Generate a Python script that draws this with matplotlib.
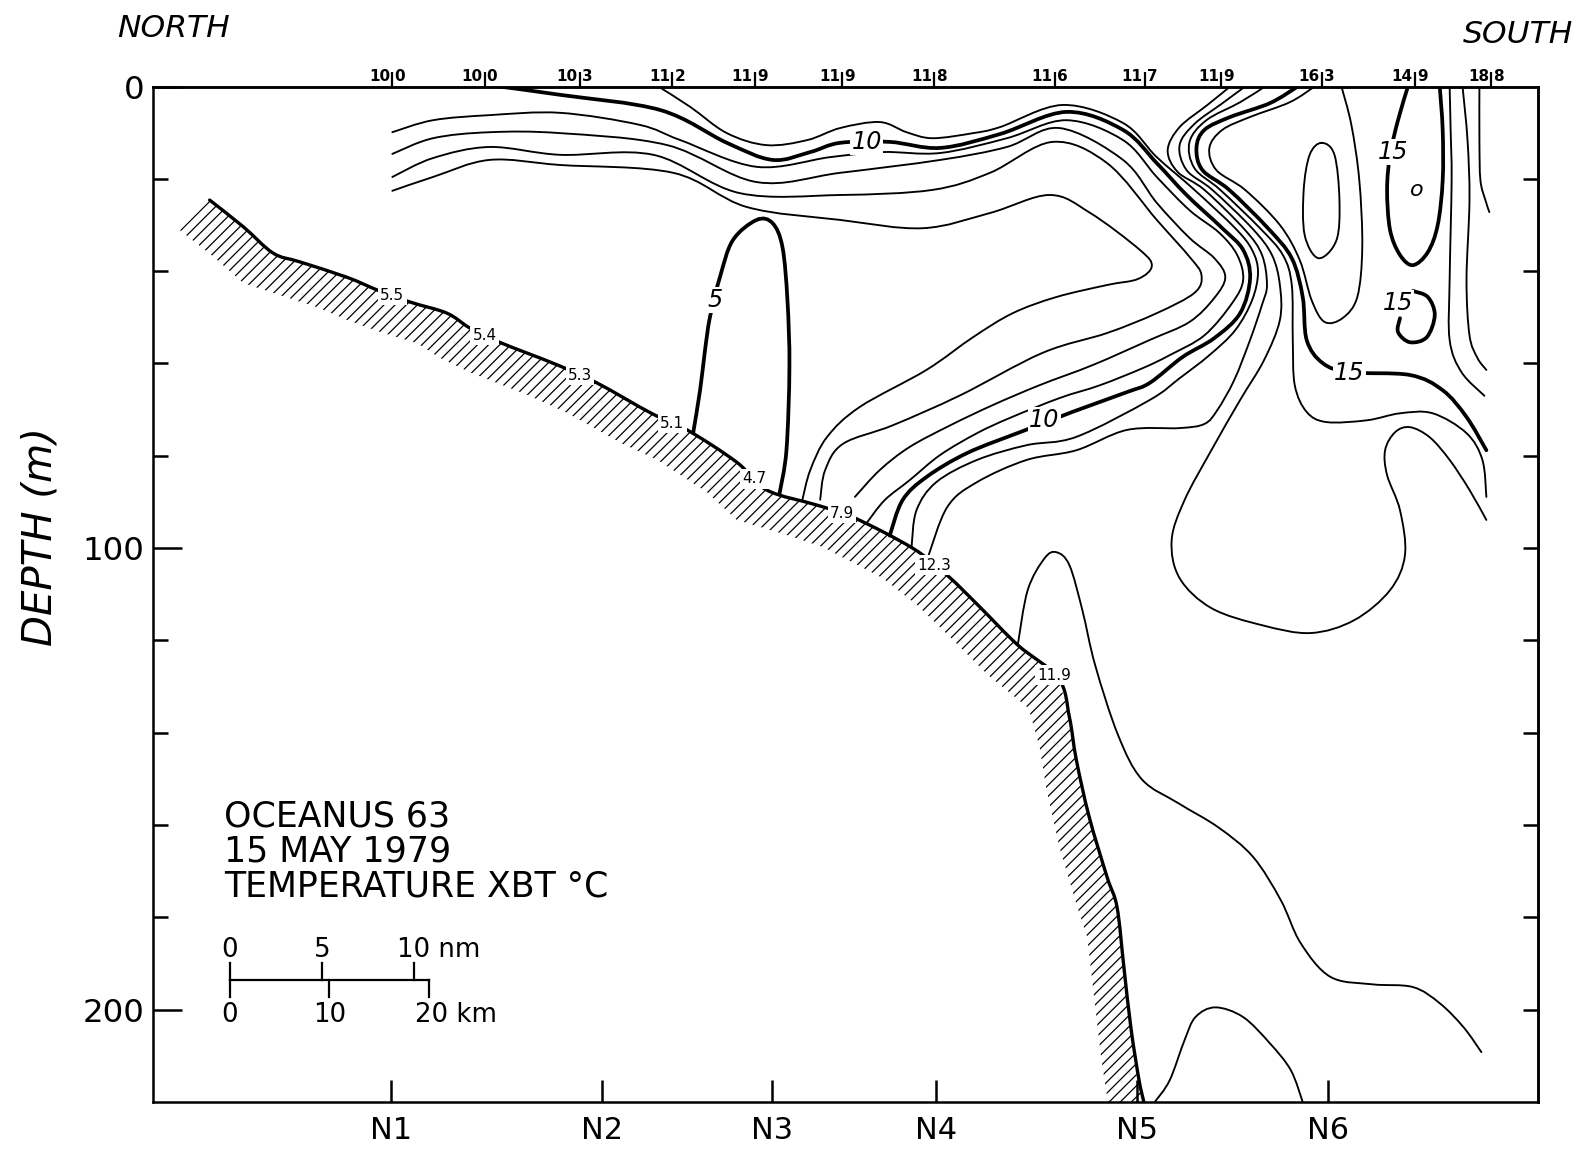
import numpy as np
import matplotlib
matplotlib.use("Agg")
import matplotlib.pyplot as plt
import matplotlib.transforms as mtransforms
from matplotlib.path import Path
from matplotlib.patches import PathPatch, Polygon
from matplotlib import font_manager as fm

# ---- section geometry -------------------------------------------------------
station_km = [24.0, 45.2, 62.3, 78.9, 99.1, 118.3]
station_names = ["N1", "N2", "N3", "N4", "N5", "N6"]

# XBT drops: distance along section (km) and surface temperature (deg C)
xbt_km = [24.1, 33.4, 43.0, 52.3, 60.6, 69.4, 78.7, 90.8, 99.9, 107.6, 117.7, 127.1, 134.8]
xbt_sst = [10.0, 10.0, 10.3, 11.2, 11.9, 11.9, 11.8, 11.6, 11.7, 11.9, 16.3, 14.9, 18.8]
# bottom temperature at the first eight drops
xbt_bottom_t = [5.5, 5.4, 5.3, 5.1, 4.7, 7.9, 12.3, 11.9]

# sea floor
bottom_km = [5.7, 9.1, 12.1, 14.8, 19.5, 22.6, 25.9, 29.6, 31.9, 34.9, 40.7, 44.7, 50.2, 53.8,
             58.8, 61.8, 66.9, 70.5, 76.5, 80.0, 83.3, 87.1, 91.2, 92.3, 93.0, 94.3, 96.1,
             97.1, 97.8, 98.5, 99.3, 99.8]
bottom_m = [24.6, 30.4, 36.1, 38.0, 41.3, 44.1, 46.7, 49.1, 52.3, 55.4, 60.3, 64.2, 70.8, 74.4,
            81.4, 87.4, 90.7, 93.3, 100.0, 105.9, 112.8, 121.0, 128.2, 136.6, 145.9, 158.3,
            171.3, 177.8, 191.0, 204.0, 215.1, 220.0]

# ---- isotherms (km, m) ------------------------------------------------------
iso5_km = [54.4, 55.1, 55.6, 56.1, 57.1, 58.4, 60.8, 62.4, 63.4, 63.9, 64.1, 63.8, 63.1]
iso5_m = [75.1, 65.8, 57.1, 49.9, 41.3, 33.3, 28.9, 29.6, 34.8, 46.3, 60.8, 78.8, 88.2]

iso6_km = [24.1, 28.2, 33.9, 41.0, 52.4, 59.8, 69.2, 77.5, 84.3, 90.3, 94.4, 99.4, 100.6, 99.2,
           96.1, 91.0, 86.6, 82.6, 77.9, 71.2, 67.9, 66.2, 65.4]
iso6_m = [22.6, 19.6, 15.9, 17.0, 18.7, 26.1, 28.9, 30.7, 27.4, 23.5, 27.4, 35.4, 38.9, 41.7,
          43.0, 45.6, 49.1, 54.3, 61.4, 69.4, 75.9, 83.1, 89.6]

iso7_km = [24.1, 28.2, 33.9, 41.0, 50.4, 59.1, 69.2, 78.5, 84.3, 90.6, 96.1, 101.1, 104.4, 105.6,
           104.9, 101.1, 96.1, 89.6, 81.3, 74.5, 69.5, 67.7, 67.2]
iso7_m = [19.6, 15.5, 13.1, 14.8, 14.8, 23.1, 23.5, 22.4, 18.7, 12.0, 16.6, 28.9, 36.9, 40.8,
          44.7, 49.1, 53.4, 57.7, 66.9, 73.4, 77.4, 83.1, 89.5]

iso8_km = [24.1, 28.2, 33.9, 41.0, 51.8, 60.8, 69.2, 79.3, 86.0, 91.3, 97.7, 101.1, 104.4, 106.9,
           108.0, 106.9, 104.4, 100.4, 94.7, 89.3, 84.6, 80.3, 76.2, 73.2, 70.7]
iso8_m = [14.6, 11.2, 9.9, 10.1, 12.7, 20.7, 18.7, 15.9, 13.1, 9.0, 15.9, 25.2, 32.8, 37.2,
          41.3, 45.8, 51.0, 54.9, 60.3, 64.7, 69.0, 73.4, 78.1, 83.1, 88.9]

iso9_km = [24.1, 28.2, 33.9, 41.0, 49.0, 53.1, 60.8, 68.2, 73.5, 79.3, 86.0, 92.0, 97.7, 101.1,
           104.4, 107.4, 109.2, 109.8, 108.7, 105.9, 102.4, 99.7, 95.4, 91.3, 86.3, 83.0, 79.3,
           76.2, 73.7, 71.9]
iso9_m = [9.9, 7.3, 6.2, 5.7, 8.3, 11.6, 17.4, 15.3, 14.2, 14.4, 11.2, 7.3, 11.6, 19.6,
          26.8, 31.7, 36.5, 41.9, 46.9, 53.9, 58.2, 61.0, 64.7, 67.5, 71.8, 75.1, 79.8,
          85.3, 89.6, 94.5]

iso10_km = [34.9, 41.0, 51.1, 57.8, 62.4, 66.2, 69.2, 74.2, 79.3, 85.3, 92.0, 97.7, 101.1, 104.1,
            107.7, 109.8, 110.5, 109.5, 106.9, 103.7, 100.4, 98.1, 92.6, 90.0, 87.3, 82.0, 77.9,
            75.5, 74.2]
iso10_m = [0.0, 1.8, 5.1, 12.2, 15.9, 14.2, 12.2, 12.0, 13.3, 10.3, 5.5, 9.4, 16.6, 23.5,
           30.7, 35.4, 41.5, 49.1, 54.5, 58.6, 64.2, 66.2, 70.5, 72.7, 74.9, 79.4, 84.6,
           89.6, 97.3]

iso11_km = [50.9, 54.1, 57.8, 61.8, 65.9, 69.2, 73.2, 75.9, 78.5, 82.6, 85.3, 91.6, 97.7, 101.1,
            104.9, 109.0, 110.7, 111.3, 110.7, 109.0, 106.4, 103.4, 100.4, 93.0, 88.0, 83.0,
            78.9, 76.9, 76.4]
iso11_m = [0.0, 4.4, 10.1, 12.7, 11.6, 9.0, 7.7, 9.9, 11.2, 10.1, 8.8, 4.0, 7.9, 15.3,
           22.4, 30.7, 35.4, 40.2, 46.3, 52.8, 58.2, 63.2, 67.9, 75.9, 77.7, 80.9,
           85.7, 91.8, 99.8]

iso12_km = [108.5, 106.2, 103.4, 102.2, 103.2, 105.9, 110.0, 111.7, 112.2, 111.7, 110.5, 108.9,
            107.2, 105.9, 103.4, 98.1, 93.0, 88.0, 83.0, 80.0, 78.0]
iso12_m = [0.0, 4.0, 8.8, 13.8, 18.5, 22.4, 31.1, 36.5, 43.0, 47.3, 54.9, 63.6,
           70.1, 73.1, 74.0, 74.4, 78.8, 80.9, 85.7, 91.1, 102.3]

iso13_km = [110.0, 107.6, 104.9, 103.4, 104.1, 106.7, 110.7, 112.7, 113.5, 113.5, 111.9, 109.5,
            106.6, 103.9, 102.6, 103.4, 106.6, 111.7, 116.6, 121.0, 124.6, 126.1, 125.6, 124.3,
            124.1, 125.1, 126.6, 128.6, 130.6, 132.6, 134.3]
iso13_m = [0.0, 3.8, 8.1, 12.7, 18.1, 22.4, 30.7, 36.5, 43.0, 50.6, 59.3, 67.9,
           78.8, 89.6, 98.3, 106.5, 113.0, 116.7, 118.4, 115.6, 109.1, 101.5, 91.8, 84.2,
           78.8, 74.9, 73.8, 76.0, 80.9, 87.4, 93.9]

iso14_km = [112.0, 109.5, 106.1, 104.4, 104.9, 107.5, 111.5, 113.8, 114.7, 114.8, 115.0, 116.2,
            118.2, 122.3, 125.6, 128.9, 132.3, 133.9, 134.3]
iso14_m = [0.0, 3.4, 7.3, 12.0, 17.7, 22.4, 30.7, 36.5, 43.0, 54.9, 64.7, 70.5,
           72.7, 72.3, 70.8, 70.8, 75.1, 80.9, 88.9]

iso15w_km = [115.3, 112.5, 108.5, 105.9, 105.1, 105.7, 108.4, 112.3, 114.7, 115.8, 116.2, 117.8,
             120.5, 126.6, 129.9, 132.3, 134.3]
iso15w_m = [0.0, 3.6, 6.6, 9.4, 13.3, 18.1, 22.4, 30.7, 37.2, 45.6, 54.9, 59.9,
            61.9, 62.5, 65.8, 71.6, 78.8]

iso15e_km = [126.4, 125.4, 124.6, 124.3, 124.6, 125.6, 126.9, 128.4, 129.4, 129.9, 129.9, 129.6]
iso15e_m = [0.0, 7.3, 14.8, 22.4, 31.1, 36.5, 38.7, 35.9, 30.0, 20.3, 9.4, 0.0]

iso15s_km = [125.6, 125.4, 126.6, 128.3, 129.1, 128.4, 126.9]
iso15s_m = [50.2, 53.2, 55.4, 54.3, 49.5, 45.6, 44.3]

iso16t_km = [117.0, 114.5, 110.5, 107.7, 106.4, 107.1, 110.0, 113.5, 115.5, 116.7, 118.0, 119.8,
             121.3, 121.8, 121.5, 120.7, 119.7]
iso16t_m = [0.0, 3.4, 6.6, 9.4, 13.3, 18.1, 22.4, 30.0, 37.6, 46.3, 51.0, 50.2,
            45.6, 34.8, 20.3, 8.3, 0.0]

iso17o_km = [117.7, 119.0, 119.5, 119.2, 117.4, 116.0, 115.9, 116.5]
iso17o_m = [12.2, 14.8, 24.6, 33.3, 37.2, 32.2, 22.4, 14.8]

iso16e_km = [130.6, 130.7, 130.8, 130.6, 130.6, 131.8, 134.1]
iso16e_m = [0.0, 9.4, 20.3, 41.9, 54.9, 61.9, 67.0]
iso17e_km = [131.9, 132.4, 132.6, 132.3, 132.6, 133.4, 134.3]
iso17e_m = [0.0, 11.6, 24.6, 41.9, 53.9, 58.8, 61.4]
iso18e_km = [133.6, 133.6, 133.7, 134.2, 134.6]
iso18e_m = [0.0, 11.6, 20.3, 24.6, 27.2]

deep1_km = [87.1, 88.1, 89.8, 91.0, 92.3, 93.6, 94.9, 97.2, 99.6, 103.3, 107.3, 110.8, 113.6,
            115.6, 118.6, 122.8, 126.9, 129.6, 132.0, 133.8]
deep1_m = [121.0, 109.1, 102.2, 100.9, 103.7, 113.4, 125.4, 140.5, 150.1, 155.3, 160.5, 166.9,
           176.3, 185.6, 192.9, 194.5, 195.1, 198.6, 203.8, 209.2]

deep2_km = [100.9, 102.4, 103.9, 105.0, 107.0, 109.8, 112.5, 114.6, 115.8]
deep2_m = [220.0, 215.3, 206.6, 201.6, 199.5, 201.6, 207.3, 213.1, 220.0]

# (label, km, m) for the hand-placed contour labels
contour_labels = [("10", 71.9, 12.0), ("10", 89.8, 72.3), ("5", 56.6, 46.3),
                  ("15", 120.5, 62.1), ("15", 124.9, 14.2), ("15", 125.4, 46.9)]


def font_ok(name):
    try:
        fm.findfont(fm.FontProperties(family=name), fallback_to_default=False)
        return True
    except ValueError:
        return False


NARROW = "Liberation Sans Narrow" if font_ok("Liberation Sans Narrow") else "DejaVu Sans"
NS = 1.0 if NARROW != "DejaVu Sans" else 0.78


def smooth(xs, ys, closed=False):
    """Catmull-Rom through the points, emitted as cubic Bezier segments."""
    p = np.column_stack([xs, ys]).astype(float)
    n = len(p)
    verts, codes = [p[0]], [Path.MOVETO]
    for i in range(n if closed else n - 1):
        if closed:
            p0, p1, p2, p3 = p[(i - 1) % n], p[i], p[(i + 1) % n], p[(i + 2) % n]
        else:
            p0, p1, p2, p3 = p[max(i - 1, 0)], p[i], p[i + 1], p[min(i + 2, n - 1)]
        verts += [p1 + (p2 - p0) / 6.0, p2 - (p3 - p1) / 6.0, p2]
        codes += [Path.CURVE4] * 3
    return Path(verts, codes)


def iso(ax, xs, ys, bold=False, closed=False, lw=None):
    w = lw if lw else (2.7 if bold else 1.35)
    ax.add_patch(PathPatch(smooth(xs, ys, closed), fill=False, ec="black", lw=w,
                           capstyle="round", joinstyle="round", zorder=3))


plt.rcParams["hatch.linewidth"] = 0.9

fig = plt.figure(figsize=(15.81, 11.52), dpi=100)
ax = fig.add_axes([0.0968, 0.0434, 0.876, 0.8815])
ax.set_xlim(0, 139.5)
ax.set_ylim(220, 0)
for s in ax.spines.values():
    s.set_linewidth(1.8)

# sea floor with hatched band underneath
bx = np.array(bottom_km)
by = np.array(bottom_m)
band = np.vstack([np.column_stack([bx, by]), np.column_stack([bx - 3.0, by + 6.5])[::-1]])
ax.add_patch(Polygon(band, closed=True, fill=False, hatch="///", lw=0, ec="black", zorder=1))
iso(ax, bottom_km, bottom_m, lw=2.4)

# isotherms
iso(ax, iso5_km, iso5_m, bold=True)
for xs, ys in [(iso6_km, iso6_m), (iso7_km, iso7_m), (iso8_km, iso8_m), (iso9_km, iso9_m),
               (iso11_km, iso11_m), (iso12_km, iso12_m), (iso13_km, iso13_m),
               (iso14_km, iso14_m), (iso16t_km, iso16t_m), (iso16e_km, iso16e_m),
               (iso17e_km, iso17e_m), (iso18e_km, iso18e_m), (deep1_km, deep1_m),
               (deep2_km, deep2_m)]:
    iso(ax, xs, ys)
iso(ax, iso17o_km, iso17o_m, closed=True)
for xs, ys in [(iso10_km, iso10_m), (iso15w_km, iso15w_m), (iso15e_km, iso15e_m),
               (iso15s_km, iso15s_m)]:
    iso(ax, xs, ys, bold=True)

for txt, x, y in contour_labels:
    ax.text(x, y, txt, ha="center", va="center", fontsize=22 * NS, style="italic",
            family=NARROW, zorder=5,
            bbox=dict(boxstyle="square,pad=0.05", fc="white", ec="none"))
ax.text(127.3, 22.4, "o", ha="center", va="center", fontsize=16, style="italic", zorder=5)

# bottom temperatures at the drop positions
for x, t in zip(xbt_km, xbt_bottom_t):
    y = np.interp(x, bottom_km, bottom_m)
    ax.text(x, y, f"{t:.1f}", ha="center", va="center", fontsize=11, zorder=6,
            bbox=dict(boxstyle="square,pad=0.15", fc="white", ec="none"))

# axis ticks
ax.set_yticks([0, 100, 200])
ax.set_yticks([20, 40, 60, 80, 120, 140, 160, 180], minor=True)
ax.set_yticklabels(["0", "100", "200"], family=NARROW, fontsize=30 * NS)
ax.tick_params(axis="y", which="major", direction="in", length=21, width=1.8, pad=6)
ax.tick_params(axis="y", which="minor", direction="in", length=11, width=1.8)
ax.set_xticks(station_km)
ax.set_xticklabels(station_names, family=NARROW, fontsize=28 * NS)
ax.tick_params(axis="x", direction="in", length=16, width=1.8, pad=10, top=False)

right = ax.secondary_yaxis("right")
right.set_yticks(np.arange(20, 220, 20))
right.tick_params(direction="in", length=11, width=1.8, labelright=False)
right.spines["right"].set_linewidth(1.8)

top = ax.secondary_xaxis("top")
top.set_xticks(xbt_km)
top.tick_params(direction="out", length=11, width=1.6, labeltop=False)
top.spines["top"].set_linewidth(1.8)

trans = mtransforms.blended_transform_factory(ax.transData, ax.transAxes)
for x, t in zip(xbt_km, xbt_sst):
    whole, frac = f"{t:.1f}".split(".")
    ax.annotate(whole, xy=(x, 1), xycoords=trans, xytext=(-1.5, 2), textcoords="offset points",
                ha="right", va="bottom", fontsize=11, fontweight="bold", annotation_clip=False)
    ax.annotate(frac, xy=(x, 1), xycoords=trans, xytext=(1.5, 2), textcoords="offset points",
                ha="left", va="bottom", fontsize=11, fontweight="bold", annotation_clip=False)

# title block
for i, line in enumerate(["OCEANUS 63", "15 MAY 1979", "TEMPERATURE XBT °C"]):
    ax.text(0.0513, 0.281 - 0.0345 * i, line, transform=ax.transAxes, ha="left", va="center",
            fontsize=25, family="DejaVu Sans")

# distance scale: 20 km with nautical miles above
sx0, sy0 = 7.75, 193.6
nm = 1.852
ax.plot([sx0, sx0 + 20], [sy0, sy0], color="black", lw=1.6)
for d in [0, 5 * nm, 10 * nm]:
    ax.plot([sx0 + d, sx0 + d], [sy0, sy0 - 3.7], color="black", lw=1.6)
for d in [0, 10, 20]:
    ax.plot([sx0 + d, sx0 + d], [sy0, sy0 + 3.7], color="black", lw=1.6)
sf = dict(family=NARROW, fontsize=24 * NS, va="center")
ax.text(sx0, sy0 - 6.5, "0", ha="center", **sf)
ax.text(sx0 + 5 * nm, sy0 - 6.5, "5", ha="center", **sf)
ax.text(sx0 + 10 * nm - 1.7, sy0 - 6.5, "10 nm", ha="left", **sf)
ax.text(sx0, sy0 + 7.6, "0", ha="center", **sf)
ax.text(sx0 + 10, sy0 + 7.6, "10", ha="center", **sf)
ax.text(sx0 + 20 - 1.4, sy0 + 7.6, "20 km", ha="left", **sf)

fig.text(0.074, 0.975, "NORTH", ha="left", va="center", fontsize=29 * NS, style="italic",
         family=NARROW)
fig.text(0.995, 0.970, "SOUTH", ha="right", va="center", fontsize=29 * NS, style="italic",
         family=NARROW)
fig.text(0.0253, 0.534, "DEPTH (m)", ha="center", va="center", rotation=90, fontsize=29,
         style="italic", family="DejaVu Sans")

fig.savefig("out.png", dpi=100, facecolor="white")
